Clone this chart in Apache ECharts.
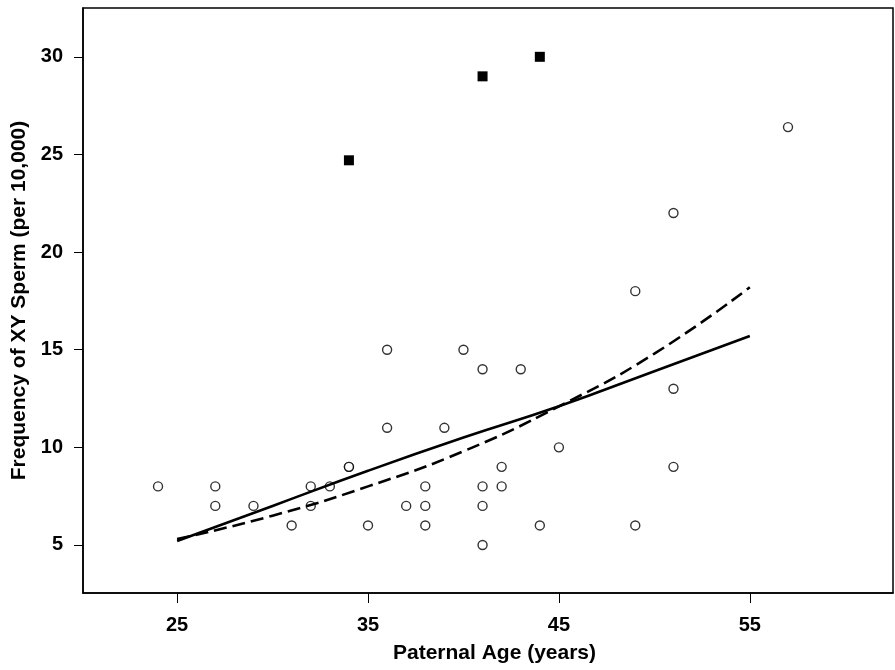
<!DOCTYPE html>
<html>
<head>
<meta charset="utf-8">
<script src="https://cdn.jsdelivr.net/npm/echarts@6/dist/echarts.min.js"></script>
<style>
  html, body { margin: 0; padding: 0; background: #fff; }
  #chart { width: 895px; height: 670px; }
</style>
</head>
<body>
<div id="chart"></div>
<script>
// open circles: [age, frequency]
const circlePoints = [
  [24, 8], [27, 8], [27, 7], [29, 7], [31, 6], [32, 8], [32, 7], [33, 8],
  [34, 9], [34, 9], [35, 6], [36, 15], [36, 11], [37, 7], [38, 8], [38, 7],
  [38, 6], [39, 11], [40, 15], [41, 14], [41, 8], [41, 7], [41, 5], [42, 9],
  [42, 8], [43, 14], [44, 6], [45, 10], [49, 18], [49, 6], [51, 22], [51, 13],
  [51, 9], [57, 26.4]
]
// filled squares
const squarePoints = [[34, 24.7], [41, 29], [44, 30]]

// fitted curves
const fitAges = [25, 30, 35, 40, 45, 50, 55]
const solidFit = [5.2, 7.0, 8.8, 10.5, 12.1, 13.9, 15.7]
const dashedFit = [5.3, 6.5, 8.0, 9.8, 12.1, 14.8, 18.2]

const xTicks = [25, 35, 45, 55]
const yTicks = [5, 10, 15, 20, 25, 30]

const font = '"Liberation Sans", Arial, sans-serif'
const labelStyle = { color: '#000', fontSize: 20, fontWeight: 'bold', fontFamily: font }
const titleStyle = { ...labelStyle, fontSize: 21 }

const chart = echarts.init(document.getElementById('chart'))
chart.setOption({
  animation: false,
  backgroundColor: '#fff',
  grid: {
    left: 83, right: 2, top: 8, bottom: 77,
    outerBoundsMode: 'none',
    show: true, borderColor: '#000', borderWidth: 1.5
  },
  xAxis: {
    type: 'value',
    min: 20.07,
    max: 62.5,
    name: 'Paternal Age (years)',
    nameLocation: 'middle',
    nameGap: 50,
    nameTextStyle: { ...titleStyle, padding: [0, 0, 0, 13] },
    axisLine: { show: true, onZero: false, lineStyle: { color: '#000', width: 1.5 } },
    axisTick: { show: true, length: 10, customValues: xTicks, lineStyle: { color: '#000', width: 1 } },
    axisLabel: { ...labelStyle, margin: 22, customValues: xTicks },
    splitLine: { show: false }
  },
  yAxis: {
    type: 'value',
    min: 2.54,
    max: 32.5,
    name: 'Frequency of XY Sperm (per 10,000)',
    nameLocation: 'middle',
    nameGap: 50,
    nameTextStyle: titleStyle,
    axisLine: { show: true, onZero: false, lineStyle: { color: '#000', width: 1.5 } },
    axisTick: { show: true, length: 9, customValues: yTicks, lineStyle: { color: '#000', width: 1 } },
    axisLabel: { ...labelStyle, margin: 20, customValues: yTicks },
    splitLine: { show: false }
  },
  series: [
    {
      type: 'line',
      data: fitAges.map((a, i) => [a, solidFit[i]]),
      smooth: true,
      symbol: 'none',
      lineStyle: { color: '#000', width: 2.6 }
    },
    {
      type: 'line',
      data: fitAges.map((a, i) => [a, dashedFit[i]]),
      smooth: true,
      symbol: 'none',
      lineStyle: { color: '#000', width: 2.6, type: [13, 6] }
    },
    {
      type: 'scatter',
      data: circlePoints,
      symbol: 'circle',
      symbolSize: 9,
      itemStyle: { color: '#fff', borderColor: '#000', borderWidth: 1.4 }
    },
    {
      type: 'scatter',
      data: squarePoints,
      symbol: 'rect',
      symbolSize: 10,
      itemStyle: { color: '#000', opacity: 1 }
    }
  ]
})
</script>
</body>
</html>
